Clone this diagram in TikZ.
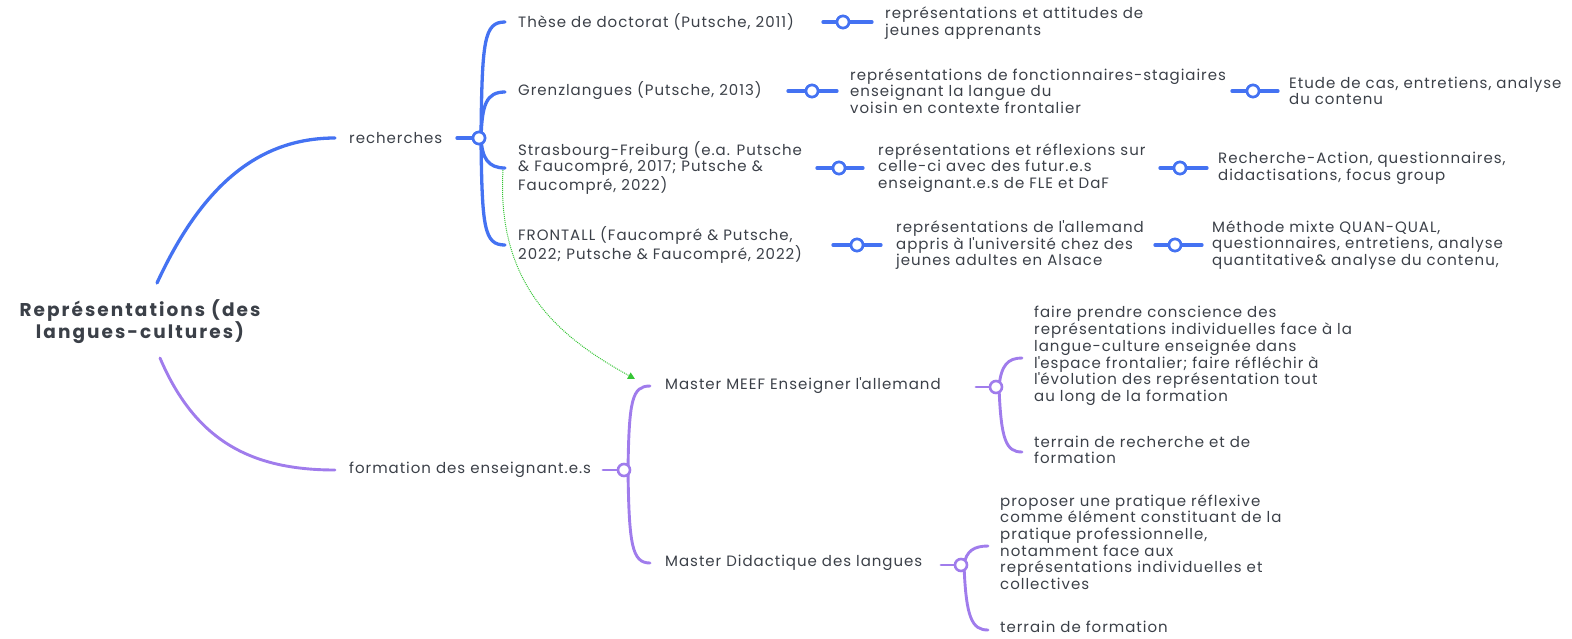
\documentclass[tikz,border=0pt]{standalone}
\usepackage{fontspec}
\setmainfont{Poppins}
\newfontfamily\bodyf{Poppins}[LetterSpace=6.5]
\newfontfamily\rootf{Poppins}[LetterSpace=11]
\usetikzlibrary{arrows.meta}
\definecolor{bl}{HTML}{4472F2}
\definecolor{pu}{HTML}{A07CEC}
\definecolor{gr}{HTML}{36C536}
\definecolor{tx}{HTML}{3B4048}
\newcommand{\ap}{\textquotesingle}
\begin{document}
\begin{tikzpicture}[x=1pt,y=-1pt,
  txt/.style={anchor=west,inner sep=0pt,align=left,text=tx,font=\bodyf\fontsize{15}{16.7}\selectfont},
  knob/.style={circle,draw=#1,fill=white,line width=2.6pt,minimum size=12pt,inner sep=0pt},
  bline/.style={draw=bl,line width=3.3pt,line cap=round},
  pline/.style={draw=pu,line width=2.9pt,line cap=round}]
\useasboundingbox (0,0) rectangle (1572,638);
% root
\node[align=center,text=tx,inner sep=0pt,font=\rootf\fontsize{18.5}{22}\selectfont\bfseries] (root) at (140,322) {Représentations (des\\langues-cultures)};
\coordinate (rb) at (157,283);
\coordinate (rp) at (160,358);
% level 1
\node[txt] (rech) at (349,138) {recherches};
\node[txt] (form) at (349,470) {formation des enseignant.e.s};
\coordinate (rechin) at (335,138);
\coordinate (formin) at (335,470);
\draw[bline] (rb) .. controls (200,190) and (255,138) .. (rechin);
\draw[pline] (rp) .. controls (195,440) and (250,470) .. (formin);
% recherches children
\node[txt] (these) at (518,22) {Thèse de doctorat (Putsche, 2011)};
\node[txt] (grenz) at (518,91) {Grenzlangues (Putsche, 2013)};
\node[txt] (stras) at (518,168) {Strasbourg-Freiburg (e.a. Putsche\\\& Faucompré, 2017; Putsche \&\\Faucompré, 2022)};
\node[txt] (front) at (518,245) {FRONTALL (Faucompré \& Putsche,\\2022; Putsche \& Faucompré, 2022)};
\coordinate (rechout) at (457,138);
\node[knob=bl] (k0) at (479,138) {};
\coordinate (e1) at (505,22);
\coordinate (e2) at (505,92);
\coordinate (e3) at (505,168);
\coordinate (e4) at (505,245);
\draw[bline] (rechout) -- (k0);
\draw[bline] (481,138) .. controls (482,40) and (484,22) .. (e1);
\draw[bline] (481,138) .. controls (482,105) and (486,92) .. (e2);
\draw[bline] (481,138) .. controls (482,158) and (488,168) .. (e3);
\draw[bline] (481,138) .. controls (482,228) and (484,245) .. (e4);
\node[knob=bl] at (479,138) {};
% level 3 blue
\node[txt] (t1) at (885,23) {représentations et attitudes de\\jeunes apprenants};
\node[txt] (g1) at (850,91) {représentations de fonctionnaires-stagiaires\\enseignant la langue du\\voisin en contexte frontalier};
\node[txt] (g2) at (1289,91) {Etude de cas, entretiens, analyse\\du contenu};
\node[txt] (s1) at (878,168) {représentations et réflexions sur\\celle-ci avec des futur.e.s\\enseignant.e.s de FLE et DaF};
\node[txt] (s2) at (1218,168) {Recherche-Action, questionnaires,\\didactisations, focus group};
\node[txt] (f1) at (896,245) {représentations de l\ap allemand\\appris à l\ap université chez des\\jeunes adultes en Alsace};
\node[txt] (f2) at (1212,245) {Méthode mixte QUAN-QUAL,\\questionnaires, entretiens, analyse\\quantitative\& analyse du contenu,};
% single connectors
\foreach \nm/\y/\a/\c/\b in {kt/22/823/843/872, kg/91/788/812/837, kg2/91/1232/1253/1278, ks/168/817/839/863, ks2/168/1160/1180/1207, kf/245/833/857/881, kf2/245/1155/1175/1202}{
  \coordinate (\nm a) at (\a,\y);
  \coordinate (\nm b) at (\b,\y);
  \node[knob=bl] (\nm) at (\c,\y) {};
  \draw[bline] (\nm a) -- (\nm b);
  \node[knob=bl] at (\c,\y) {};
}
% green dotted arrow
\coordinate (gs) at (503,170);
\coordinate (gt) at (635,379);
\draw[gr,densely dotted,line width=1pt,-{Triangle[length=7pt,width=7pt]}] (gs) .. controls (496,290) and (565,340) .. (gt);
% formation children
\node[txt] (meef) at (665,386) {Master MEEF Enseigner l\ap allemand};
\node[txt] (did) at (665,563) {Master Didactique des langues};
\coordinate (formout) at (603,470);
\coordinate (p1) at (650,386);
\coordinate (p2) at (650,563);
\draw[pline] (formout) -- (624,470);
\draw[pline] (628,470) .. controls (629,400) and (632,386) .. (p1);
\draw[pline] (628,470) .. controls (629,545) and (632,563) .. (p2);
\node[knob=pu] (k1) at (624,470) {};
% MEEF children
\node[txt] (m1) at (1034,356) {faire prendre conscience des\\représentations individuelles face à la\\langue-culture enseignée dans\\l\ap espace frontalier; faire réfléchir à\\l\ap évolution des représentation tout\\au long de la formation};
\node[txt] (m2) at (1034,450) {terrain de recherche et de\\formation};
\coordinate (meefout) at (976,387);
\coordinate (q1) at (1022,358);
\coordinate (q2) at (1022,452);
\draw[pline] (meefout) -- (996,387);
\draw[pline] (999,387) .. controls (1001,365) and (1008,358) .. (q1);
\draw[pline] (999,387) .. controls (1001,440) and (1006,452) .. (q2);
\node[knob=pu] (k2) at (996,387) {};
% Didactique children
\node[txt] (d1) at (1000,542) {proposer une pratique réflexive\\comme élément constituant de la\\pratique professionnelle,\\notamment face aux\\représentations individuelles et\\collectives};
\node[txt] (d2) at (1000,627) {terrain de formation};
\coordinate (didout) at (941,565);
\coordinate (r1) at (988,546);
\coordinate (r2) at (988,630);
\draw[pline] (didout) -- (961,565);
\draw[pline] (964,565) .. controls (966,551) and (974,546) .. (r1);
\draw[pline] (964,565) .. controls (966,618) and (972,630) .. (r2);
\node[knob=pu] (k3) at (961,565) {};
\end{tikzpicture}
\end{document}
